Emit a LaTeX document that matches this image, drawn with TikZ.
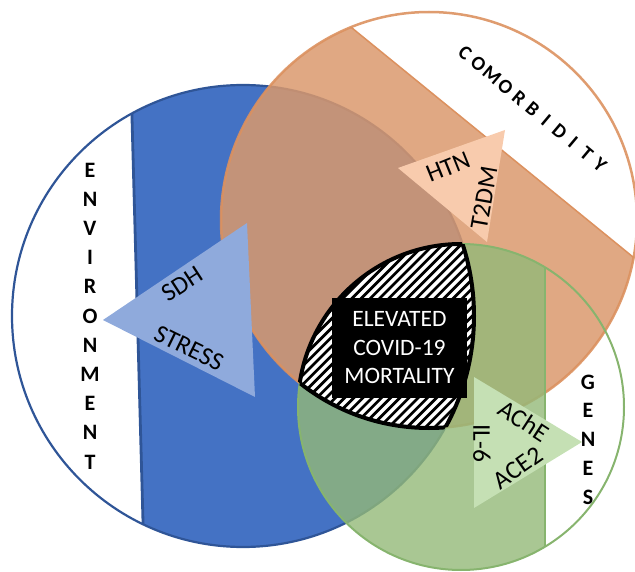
\documentclass[tikz,border=0pt]{standalone}
\usepackage{fontspec}
\setmainfont{Carlito}[BoldFont={Carlito Bold}]
\usetikzlibrary{positioning}

\definecolor{envblue}{RGB}{68,114,196}
\definecolor{envline}{RGB}{47,85,151}
\definecolor{envtri}{RGB}{143,170,220}
\definecolor{comorange}{RGB}{218,153,109}
\definecolor{comline}{RGB}{220,145,95}
\definecolor{comtri}{RGB}{248,203,173}
\definecolor{genegreen}{RGB}{147,185,120}
\definecolor{geneline}{RGB}{135,180,110}
\definecolor{genetri}{RGB}{197,224,180}

\begin{document}
\begin{tikzpicture}[x=1pt, y=-1pt,
    item/.style={font=\fontsize{25.5}{30}\selectfont, inner sep=0pt},
    letter/.style={font=\bfseries\fontsize{22}{24}\selectfont, inner sep=0pt},
    core/.style={fill=black, text=white, align=center, minimum width=135pt,
        minimum height=100pt, font=\fontsize{23.5}{28.5}\selectfont}
]
\useasboundingbox (0,0) rectangle (635,572);

% Circle centres and radii
\coordinate (envc) at (243,316);
\coordinate (comc) at (429,220);
\coordinate (genc) at (461,407);
\def\envR{231pt}
\def\comR{208pt}
\def\genR{163pt}

% Environment circle, white strip on the left
\begin{scope}
  \clip (envc) circle[radius=\envR];
  \fill[envblue] (126.5,-84) -- (148.5,724) -- (700,724) -- (700,-84) -- cycle;
  \draw[envline, line width=2.8pt] (126.5,-84) -- (148.5,724);
\end{scope}
\draw[envline, line width=2.2pt] (envc) circle[radius=\envR];

% Comorbidity circle, white band top right
\begin{scope}
  \clip (comc) circle[radius=\comR];
  \fill[comorange, opacity=0.85] (71,-201) -- (914,486) -- (0,900) -- (-300,0) -- cycle;
  \draw[comline, line width=1.5pt] (71,-201) -- (914,486);
\end{scope}
\draw[comline, opacity=0.9, line width=2.5pt] (comc) circle[radius=\comR];

% Genes circle, white strip on the right
\begin{scope}
  \clip (genc) circle[radius=\genR];
  \fill[genegreen, opacity=0.8] (200,200) rectangle (545,600);
  \draw[geneline, line width=1.8pt] (545,200) -- (545,600);
\end{scope}
\draw[geneline, line width=2pt] (genc) circle[radius=\genR];

% Hatched core = all three circles
\begin{scope}
  \clip (envc) circle[radius=\envR];
  \clip (comc) circle[radius=\comR];
  \clip (genc) circle[radius=\genR];
  \fill[white] (250,200) rectangle (520,480);
  \foreach \c in {0,...,45}
    \draw[line width=2.7pt] ({540+9.2*\c-200},200) -- ({540+9.2*\c-480},480);
\end{scope}
\begin{scope}[line width=4pt]
  \begin{scope}
    \clip (envc) circle[radius=\envR]; \clip (comc) circle[radius=\comR];
    \draw (genc) circle[radius=\genR];
  \end{scope}
  \begin{scope}
    \clip (envc) circle[radius=\envR]; \clip (genc) circle[radius=\genR];
    \draw (comc) circle[radius=\comR];
  \end{scope}
  \begin{scope}
    \clip (comc) circle[radius=\comR]; \clip (genc) circle[radius=\genR];
    \draw (envc) circle[radius=\envR];
  \end{scope}
\end{scope}

% Triangles
\fill[envtri] (103,320) -- (247,223) -- (255,397) -- cycle;
\fill[comtri] (398,168) -- (505,130) -- (487,242) -- cycle;
\fill[genetri] (474,377) -- (474,508) -- (582,442) -- cycle;

% Factor labels
\node[item, rotate=33] (sdh) at (182,284) {SDH};
\node[item, rotate=-26] (stress) at (189,348) {STRESS};
\node[item, rotate=22] (htn) at (448,167) {HTN};
\node[item, rotate=80] (t2dm) at (484,198) {T2DM};
\node[item, rotate=-33] (ache) at (524,421) {AChE};
\node[item, rotate=35] (ace) at (518,468) {ACE2};
\node[item, rotate=-90] (il) at (482,443) {IL-6};

% Centre box
\node[core] (mort) at (399.5,348) {ELEVATED\\COVID-19\\MORTALITY};

% Circle titles, one letter at a time
\foreach \l [count=\i from 0] in {E,N,V,I,R,O,N,M,E,N,T}
  \node[letter] (env\i) at (90,{170+29.2*\i}) {\l};
\foreach \l [count=\i from 0] in {G,E,N,E,S}
  \node[letter] (gene\i) at (588,{382+28.75*\i}) {\l};
\foreach \l [count=\i from 0] in {C,O,M,O,R,B,I,D,I,T,Y}
  \node[letter, font=\bfseries\fontsize{20}{22}\selectfont, rotate=-40] (como\i)
    at ({465+13.5*\i},{53+11.2*\i}) {\l};

\end{tikzpicture}
\end{document}
